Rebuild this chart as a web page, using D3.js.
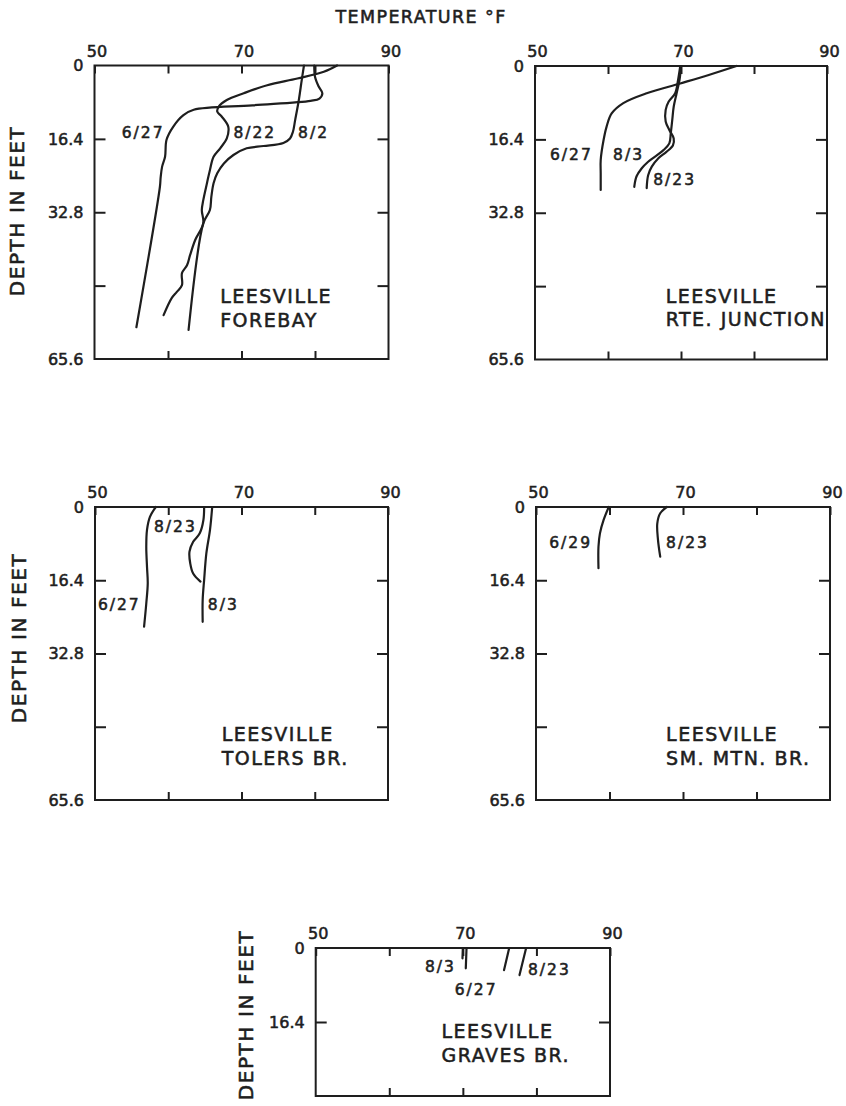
<!DOCTYPE html>
<html>
<head>
<meta charset="utf-8">
<script src="https://cdn.jsdelivr.net/npm/d3@7"></script>
<style>
  body { margin: 0; background: #fff; }
  text { font-family: "DejaVu Sans", sans-serif; fill: #1e1e1e; stroke: #1e1e1e; stroke-width: 0.55px; }
  .tick text { font-size: 16px; }
  .title { font-size: 17.5px; letter-spacing: 1.4px; }
  .depth-title { font-size: 20px; letter-spacing: 1.6px; }
  .curve-label { font-size: 15.5px; letter-spacing: 2px; }
  .station { font-size: 19px; letter-spacing: 1.5px; }
</style>
</head>
<body>
<div id="chart"></div>
<script>
// temperature (deg F) and depth (ft) axes
const tempTicks = [50, 60, 70, 80, 90];
const tempTickLabels = ["50", "", "70", "", "90"];
const depthTicks = [0, 16.4, 32.8, 49.2, 65.6];
const depthTickLabels = ["0", "16.4", "32.8", "", "65.6"];
const shallowDepthTicks = [0, 16.4, 32.8];
const shallowDepthTickLabels = ["0", "16.4", ""];

const stations = [
    ["LEESVILLE", "FOREBAY"],
    ["LEESVILLE", "RTE. JUNCTION"],
    ["LEESVILLE", "TOLERS BR."],
    ["LEESVILLE", "SM. MTN. BR."],
    ["LEESVILLE", "GRAVES BR."]
];

// profiles: [depth ft, temperature F]
const forebay_0627 = [[0,79.9],[2.5,80.0],[4.7,80.5],[6.2,81.0],[7.4,80.6],[7.9,79.4],[8.9,71.5],[9.9,63.5],[11.1,62.1],[13.7,60.7],[16.6,59.8],[20.4,59.6],[22.6,59.2],[25.0,59.0],[27.1,58.9],[58.5,55.7]];
const forebay_0822 = [[0,83.0],[1.4,81.2],[2.9,77.6],[4.4,73.5],[6.2,70.3],[7.7,68.0],[9.2,66.9],[10.3,66.7],[11.4,67.3],[13.7,68.2],[16.3,68.0],[18.5,67.1],[20.4,66.2],[23.4,65.7],[26.3,65.3],[30.1,64.8],[32.3,64.6],[35.3,64.8],[39.0,63.7],[42.4,63.0],[44.6,62.6],[46.4,61.9],[49.1,61.9],[50.6,61.2],[52.0,60.5],[55.8,59.4]];
const forebay_0802 = [[0,78.5],[3.2,78.2],[7.7,77.8],[12.2,77.3],[14.8,77.0],[16.3,76.6],[17.3,75.7],[18.0,73.0],[18.5,70.7],[20.0,68.9],[21.9,67.6],[24.1,66.7],[26.3,66.2],[29.3,65.9],[32.3,65.7],[35.3,64.8],[59.1,62.8]];

const junction_0627 = [[0,77.6],[2.0,73.8],[3.9,69.9],[6.1,65.3],[8.3,62.1],[10.6,60.5],[13.6,59.8],[16.5,59.4],[21.0,59.0],[24.0,59.0],[27.7,59.0]];
const junction_0803 = [[0,70.0],[3.1,69.8],[6.1,69.4],[9.1,69.0],[12.1,68.8],[15.0,68.6],[17.3,68.4],[18.8,67.6],[20.3,66.4],[21.4,65.5],[22.9,64.6],[24.7,63.9],[27.0,63.6]];
const junction_0823 = [[0,69.9],[3.1,69.6],[6.1,69.2],[8.0,68.3],[9.8,67.9],[12.4,67.9],[14.3,68.4],[16.2,69.0],[17.7,68.9],[19.2,68.0],[20.6,66.9],[22.5,66.0],[24.4,65.5],[27.3,65.3]];

const tolers_0627 = [[0,58.3],[2.2,57.5],[5.1,57.1],[8.9,57.0],[13.4,57.1],[17.1,57.2],[21.6,57.0],[26.8,56.7]];
const tolers_0823 = [[0,64.9],[2.9,64.8],[5.9,64.3],[7.8,63.4],[10.0,62.9],[12.6,63.0],[14.9,63.4],[16.7,64.4]];
const tolers_0803 = [[0,66.0],[5.1,65.7],[10.4,65.2],[16.3,64.9],[20.8,64.7],[25.7,64.7]];

const smMtn_0629 = [[0,59.9],[2.9,59.2],[5.9,58.7],[8.9,58.5],[13.7,58.5]];
const smMtn_0823 = [[0,67.8],[1.4,66.9],[3.7,66.5],[7.4,66.6],[11.1,66.9]];

const graves_0803 = [[0,70.0],[2.3,69.95],null,[0,70.5],[4.5,70.4]];
const graves_0627 = [[0,76.3],[4.9,75.6]];
const graves_0823 = [[0,78.6],[6.0,77.7]];

const ink = "#1e1e1e";

// layout of the five panels; label spots are given in temp/depth units
const panels = [
    {left: 94.5, top: 65.5, w: 294, h: 293.5, maxDepth: 65.6, yTicks: depthTicks, yLabels: depthTickLabels,
     name: stations[0], nameAt: [67.1, 53.1, 58.4],
     curves: [
        {data: forebay_0627, label: "6/27", at: [53.7, 16.3]},
        {data: forebay_0822, label: "8/22", at: [68.9, 16.3]},
        {data: forebay_0802, label: "8/2", at: [77.7, 16.3]}
     ]},
    {left: 535, top: 66, w: 292, h: 293.5, maxDepth: 65.6, yTicks: depthTicks, yLabels: depthTickLabels,
     name: stations[1], nameAt: [67.9, 53.0, 58.1],
     curves: [
        {data: junction_0627, label: "6/27", at: [52.05, 21.0]},
        {data: junction_0803, label: "8/3", at: [60.7, 21.0]},
        {data: junction_0823, label: "8/23", at: [66.2, 26.6]}
     ]},
    {left: 95, top: 507, w: 293, h: 293, maxDepth: 65.6, yTicks: depthTicks, yLabels: depthTickLabels,
     name: stations[2], nameAt: [67.3, 52.5, 57.8],
     curves: [
        {data: tolers_0627, label: "6/27", at: [50.4, 23.1]},
        {data: tolers_0823, label: "8/23", at: [58.05, 5.5]},
        {data: tolers_0803, label: "8/3", at: [65.4, 23.1]}
     ]},
    {left: 536, top: 507, w: 294, h: 293, maxDepth: 65.6, yTicks: depthTicks, yLabels: depthTickLabels,
     name: stations[3], nameAt: [67.7, 52.5, 57.8],
     curves: [
        {data: smMtn_0629, label: "6/29", at: [51.8, 9.2]},
        {data: smMtn_0823, label: "8/23", at: [67.7, 9.2]}
     ]},
    {left: 315.7, top: 948, w: 294.3, h: 148, maxDepth: 32.8, yTicks: shallowDepthTicks, yLabels: shallowDepthTickLabels,
     name: stations[4], nameAt: [67.1, 20.0, 25.2],
     curves: [
        {data: graves_0803, label: "8/3", at: [64.85, 5.3]},
        {data: graves_0627, label: "6/27", at: [68.9, 10.4]},
        {data: graves_0823, label: "8/23", at: [78.85, 6.0]}
     ]}
];

const svg = d3.select("#chart")
    .append("svg")
    .attr("width", 846)
    .attr("height", 1106)
    .style("background", "#fff");

svg.append("text")
    .attr("class", "title")
    .attr("x", 421)
    .attr("y", 23)
    .attr("text-anchor", "middle")
    .text("TEMPERATURE °F");

// vertical axis titles
[[17, 211], [19, 638], [246, 1015]].forEach(([cx, cy]) => {
    svg.append("text")
        .attr("class", "depth-title")
        .attr("transform", `translate(${cx},${cy}) rotate(-90)`)
        .attr("text-anchor", "middle")
        .attr("dy", "0.36em")
        .text("DEPTH IN FEET");
});

function styleAxis(g) {
    g.attr("font-size", null).attr("font-family", null).attr("color", ink);
    g.select(".domain").remove();
    g.selectAll(".tick line").attr("stroke-width", 2);
}

function drawPanel(p) {
    const x = d3.scaleLinear().domain([50, 90]).range([p.left, p.left + p.w]);
    const y = d3.scaleLinear().domain([0, p.maxDepth]).range([p.top, p.top + p.h]);
    const g = svg.append("g");

    const innerY = p.yTicks.slice(1, -1);
    const innerX = tempTicks.slice(1, -1);

    g.append("g")
        .attr("transform", `translate(0,${p.top})`)
        .call(d3.axisTop(x).tickValues(tempTicks).tickSize(-8).tickPadding(9)
            .tickFormat((d, i) => tempTickLabels[i]))
        .call(styleAxis)
        .call(a => a.selectAll(".tick text").attr("dx", 2));

    g.append("g")
        .attr("transform", `translate(0,${p.top + p.h})`)
        .call(d3.axisBottom(x).tickValues(innerX).tickSize(-8).tickFormat(""))
        .call(styleAxis);

    g.append("g")
        .attr("transform", `translate(${p.left},0)`)
        .call(d3.axisLeft(y).tickValues(p.yTicks).tickSize(-11).tickPadding(11)
            .tickFormat((d, i) => p.yLabels[i]))
        .call(styleAxis)
        .call(a => a.selectAll(".tick line").filter(d => !innerY.includes(d)).remove());

    g.append("g")
        .attr("transform", `translate(${p.left + p.w},0)`)
        .call(d3.axisRight(y).tickValues(innerY).tickSize(-11).tickFormat(""))
        .call(styleAxis);

    g.append("rect")
        .attr("x", p.left).attr("y", p.top)
        .attr("width", p.w).attr("height", p.h)
        .attr("fill", "none")
        .attr("stroke", ink)
        .attr("stroke-width", 2);

    const line = d3.line()
        .defined(d => d)
        .x(d => x(d[1]))
        .y(d => y(d[0]))
        .curve(d3.curveCatmullRom.alpha(0.5));

    g.selectAll(".profile")
        .data(p.curves)
        .join("path")
        .attr("class", "profile")
        .attr("d", d => line(d.data))
        .attr("fill", "none")
        .attr("stroke", ink)
        .attr("stroke-width", 2.2)
        .attr("stroke-linejoin", "round")
        .attr("stroke-linecap", "round");

    g.selectAll(".curve-label")
        .data(p.curves)
        .join("text")
        .attr("class", "curve-label")
        .attr("x", d => x(d.at[0]))
        .attr("y", d => y(d.at[1]))
        .text(d => d.label);

    p.name.forEach((s, i) => {
        g.append("text")
            .attr("class", "station")
            .attr("x", x(p.nameAt[0]))
            .attr("y", y(p.nameAt[1 + i]))
            .text(s);
    });
}

panels.forEach(drawPanel);
</script>
</body>
</html>
